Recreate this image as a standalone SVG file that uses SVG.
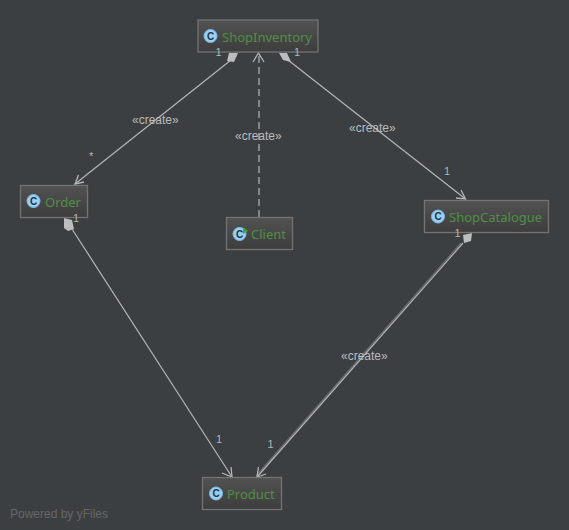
<svg xmlns="http://www.w3.org/2000/svg" width="569" height="530" viewBox="0 0 569 530">
<style>
text{font-family:"Liberation Sans",Arial,sans-serif}
.box{fill:url(#g);stroke:#727473;stroke-width:1.3}
.nm{font-family:"Noto Sans","Liberation Sans",sans-serif;font-size:13px;fill:#4f8f45}
.ic{fill:#9ad0f5;stroke:#7dbdea;stroke-width:1}
.c{font-size:10px;fill:#24323d;text-anchor:middle;font-weight:bold}
.ln{fill:none;stroke:#b4b6b6;stroke-width:1.2}
.ah{fill:none;stroke:#b4b6b6;stroke-width:1.3}
.dm{fill:#bcbebe;stroke:none}
.lb{font-size:11px;fill:#b4b6b6}
.ct{font-size:12px;fill:#b9bcbc}
</style>
<defs><linearGradient id="g" x1="0" y1="0" x2="0" y2="1"><stop offset="0" stop-color="#525252"/><stop offset="1" stop-color="#3d3d3d"/></linearGradient></defs>
<rect width="569" height="530" fill="#3c3f41"/>
<g id="connectors">
<path class="ln" d="M231 60L75 184"/><path class="ah" d="M78.500 175L75 184L84 182"/><path class="dm" d="M229 53L238 53L234 62L227 61Z"/>
<path class="ln" d="M259 217V53" stroke-dasharray="7 4"/><path class="ah" d="M253 62L258.500 53L264 62"/>
<path class="ln" d="M288 60L465.500 199"/><path class="ah" d="M456 198L465.500 199L461 190"/><path class="dm" d="M279 53L287 53L291 62L283 60Z"/>
<path class="ln" d="M72 229L232 477"/><path class="ah" d="M222 473L232 477L231 467"/><path class="dm" d="M64 218L72 220L74 229L68 231L64 228Z"/>
<path class="ln" d="M463 243L257 477"/><path class="ln" d="M461 243L256 476" opacity=".4"/><path class="ah" d="M266 474L257 477L258.500 467"/><path class="dm" d="M463 235L472 233L471 241L464 243Z"/>
</g>
<g id="ShopInventory"><rect class="box" x="198" y="20" width="120" height="32"/><circle class="ic" cx="210.500" cy="36" r="6.500"/><text class="c" x="210.500" y="39.500">C</text><text class="nm" x="222" y="41.500">ShopInventory</text></g>
<g id="Order"><rect class="box" x="20.500" y="185.500" width="67" height="32"/><circle class="ic" cx="33.500" cy="201" r="6.500"/><text class="c" x="33.500" y="204.500">C</text><text class="nm" x="45" y="206.500">Order</text></g>
<g id="Client"><rect class="box" x="226.500" y="217.500" width="66" height="32"/><circle class="ic" cx="239.500" cy="234" r="6.500"/><text class="c" x="239.500" y="237.500">C</text><path d="M243 227L248 231L243 234Z" fill="#3fa845"/><text class="nm" x="251" y="239">Client</text></g>
<g id="ShopCatalogue"><rect class="box" x="424.500" y="200.500" width="124" height="32"/><circle class="ic" cx="438" cy="216.500" r="6.500"/><text class="c" x="438" y="220">C</text><text class="nm" x="449" y="222">ShopCatalogue</text></g>
<g id="Product"><rect class="box" x="202.500" y="477.500" width="79" height="32"/><circle class="ic" cx="216" cy="493.500" r="6.500"/><text class="c" x="216" y="497">C</text><text class="nm" x="227" y="499">Product</text></g>
<g id="labels">
<text class="lb" x="215.500" y="56">1</text><text class="lb" x="294" y="55.500">1</text>
<text class="lb" x="89" y="160">*</text><text class="lb" x="73" y="222">1</text>
<text class="lb" x="444" y="175">1</text><text class="lb" x="454.500" y="237">1</text>
<text class="lb" x="216" y="443">1</text><text class="lb" x="267.500" y="448">1</text>
<text class="ct" x="132" y="124">«create»</text><text class="ct" x="235" y="140">«create»</text><text class="ct" x="349" y="132">«create»</text><text class="ct" x="341" y="360">«create»</text>
<text x="10" y="518" font-size="12" fill="#646668">Powered by yFiles</text>
</g>
</svg>
